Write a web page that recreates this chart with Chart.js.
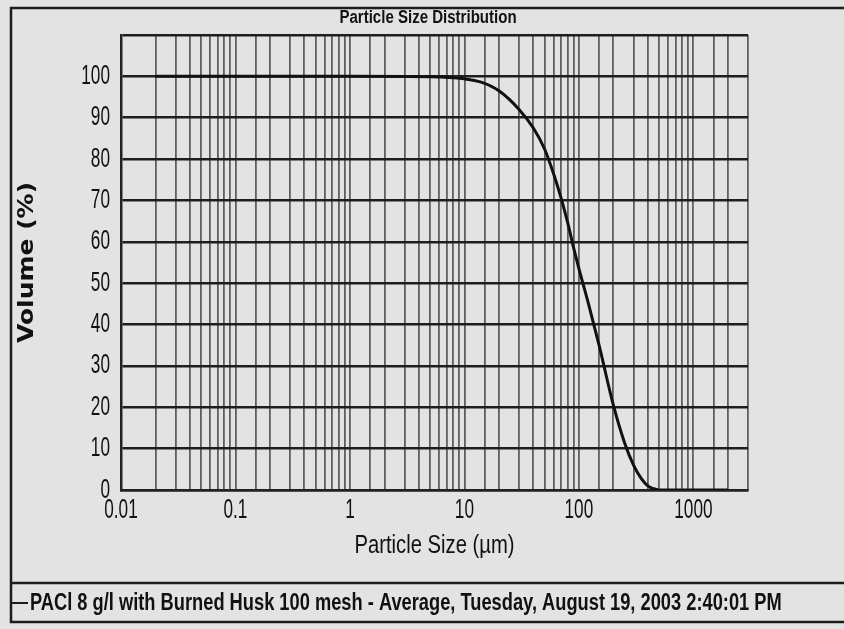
<!DOCTYPE html>
<html>
<head>
<meta charset="utf-8">
<script src="https://cdn.jsdelivr.net/npm/chart.js@4/dist/chart.umd.min.js"></script>
<style>
  html, body { margin: 0; padding: 0; background: #e3e3e3; }
  #wrap { width: 844px; height: 629px; }
</style>
</head>
<body>
<div id="wrap"><canvas id="psd" width="844" height="629"></canvas></div>
<script>
// Distribuição granulométrica — volume passante (%) x tamanho de partícula (µm)
const tamanhos = [0.02, 0.1, 1, 5, 10, 14, 20, 30, 40, 50, 60, 70, 80, 90, 100, 120, 150, 200, 250, 300, 350, 400, 450, 500, 1000, 2000];
const volumes  = [100, 100, 100, 99.9, 99.4, 98.6, 96.5, 92, 87.5, 82.5, 76.5, 70.5, 64.5, 58.5, 53.5, 45.5, 35, 20.5, 11.5, 6, 2.8, 1, 0.3, 0, 0, 0];

const rotulosX = [0.01, 0.1, 1, 10, 100, 1000];
const rotulosY = [0, 10, 20, 30, 40, 50, 60, 70, 80, 90, 100];

const titulo = 'Particle Size Distribution';
const tituloX = 'Particle Size (µm)';
const tituloY = 'Volume (%)';
const legenda = 'PACl 8 g/l with Burned Husk 100 mesh - Average, Tuesday, August 19, 2003 2:40:01 PM';

const FONTE = '"Liberation Sans", Arial, sans-serif';
const TINTA = '#111';

// texto condensado/esticado (a fonte original é estreita e alta)
function texto(ctx, s, x, y, fonte, sx, sy, alinh, rot) {
  ctx.save();
  ctx.translate(x, y);
  if (rot) ctx.rotate(rot);
  ctx.scale(sx, sy);
  ctx.font = fonte;
  ctx.textAlign = alinh || 'center';
  ctx.textBaseline = 'middle';
  ctx.fillStyle = TINTA;
  ctx.fillText(s, 0, 0);
  ctx.restore();
}

// moldura, títulos, rótulos e legenda desenhados por cima do gráfico
const moldura = {
  id: 'moldura',
  beforeDraw(chart) {
    const ctx = chart.ctx;
    ctx.save();
    ctx.fillStyle = '#e3e3e3';
    ctx.fillRect(0, 0, chart.width, chart.height);
    ctx.restore();
  },
  afterDraw(chart) {
    const ctx = chart.ctx;
    const sx = chart.scales.x, sy = chart.scales.y;
    ctx.save();
    ctx.strokeStyle = '#1c1c1c';
    ctx.lineWidth = 2.5;
    // caixa externa (aberta à direita)
    ctx.beginPath();
    ctx.moveTo(chart.width + 5, 8);
    ctx.lineTo(11, 8);
    ctx.lineTo(11, 622);
    ctx.lineTo(chart.width + 5, 622);
    ctx.moveTo(11, 583);
    ctx.lineTo(chart.width + 5, 583);
    ctx.stroke();

    // rótulos dos eixos
    rotulosX.forEach(v => {
      texto(ctx, String(v), sx.getPixelForValue(v), sx.top + 20, '21px ' + FONTE, 0.82, 1.3);
    });
    rotulosY.forEach(v => {
      texto(ctx, String(v), sx.left - 11, sy.getPixelForValue(v), '21px ' + FONTE, 0.82, 1.3, 'right');
    });

    texto(ctx, titulo, 428, 18, 'bold 16px ' + FONTE, 0.94, 1.15);
    texto(ctx, tituloX, (sx.left + sx.right) / 2, 546, '22px ' + FONTE, 0.92, 1.2);
    texto(ctx, tituloY, 28, (sy.top + sy.bottom) / 2, 'bold 20px "DejaVu Sans", Verdana, sans-serif', 1.25, 1.05, 'center', -Math.PI / 2);

    // legenda da série
    ctx.lineWidth = 2;
    ctx.beginPath();
    ctx.moveTo(12, 603);
    ctx.lineTo(28, 603);
    ctx.stroke();
    texto(ctx, legenda, 30, 603, 'bold 21px ' + FONTE, 0.87, 1.15, 'left');
    ctx.restore();
  }
};

new Chart(document.getElementById('psd'), {
  type: 'line',
  data: {
    datasets: [{
      label: legenda,
      data: tamanhos.map((t, i) => ({ x: t, y: volumes[i] })),
      borderColor: '#111',
      borderWidth: 3,
      pointRadius: 0,
      cubicInterpolationMode: 'monotone',
      fill: false
    }]
  },
  options: {
    responsive: false,
    animation: false,
    layout: { padding: { left: 0, right: 96, top: 35, bottom: 0 } },
    plugins: {
      legend: { display: false },
      tooltip: { enabled: false }
    },
    scales: {
      x: {
        type: 'logarithmic',
        min: 0.01,
        max: 3000,
        afterFit: s => { s.height = 139; },
        border: { display: true, color: '#222', width: 2.5 },
        grid: { color: 'rgba(45,45,45,0.72)', lineWidth: 1.8, drawTicks: false },
        ticks: { display: false, autoSkip: false }
      },
      y: {
        min: 0,
        max: 110,
        afterFit: s => { s.width = 121; },
        border: { display: true, color: '#222', width: 2.5 },
        grid: { color: '#1e1e1e', lineWidth: 2.5, drawTicks: false },
        ticks: { display: false, stepSize: 10 }
      }
    }
  },
  plugins: [moldura]
});
</script>
</body>
</html>
